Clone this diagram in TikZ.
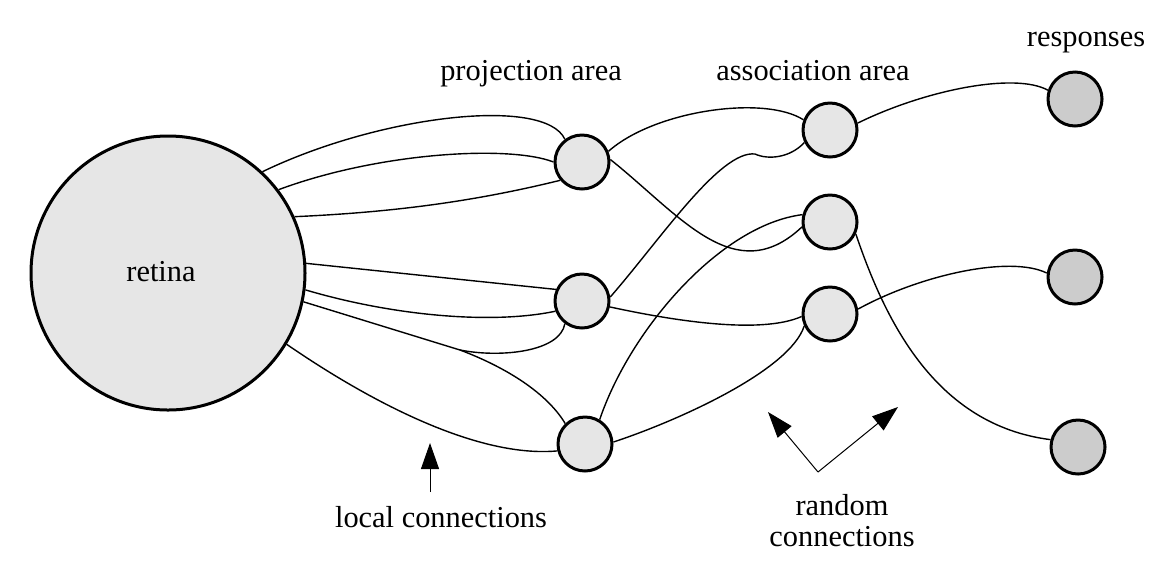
\documentclass[tikz,border=0pt]{standalone}
\usepackage{fontspec}
\setmainfont{Liberation Serif}
\usetikzlibrary{arrows.meta}
\definecolor{lightfill}{HTML}{E6E6E6}
\definecolor{darkfill}{HTML}{CCCCCC}
\begin{document}
\begin{tikzpicture}[x=0.5pt,y=-0.5pt,
  unit/.style={circle,draw,line width=1.5pt,fill=lightfill,minimum size=27pt,inner sep=0pt},
  resp/.style={unit,fill=darkfill},
  conn/.style={line width=0.7pt},
  lbl/.style={font=\fontsize{15.2}{18}\selectfont,inner sep=0pt,anchor=base},
  pointer/.style={line width=0.5pt,-{Triangle[length=13pt,width=9pt]}}]
\useasboundingbox (0,0) rectangle (1170,580);

% nodes
\node[unit,minimum size=137pt] (ret) at (168,273) {};
\node[unit] (p1) at (582,162) {};
\node[unit] (p2) at (582,301) {};
\node[unit] (p3) at (585,444) {};
\node[unit] (a1) at (830,130) {};
\node[unit] (a2) at (830,222) {};
\node[unit] (a3) at (830,314) {};
\node[resp] (r1) at (1075,99) {};
\node[resp] (r2) at (1075,277) {};
\node[resp] (r3) at (1078,447) {};

% labels
\node[lbl] (tret) at (161,281) {retina};
\node[lbl] (tproj) at (531,80) {projection area};
\node[lbl] (tassoc) at (813,80) {association area};
\node[lbl] (tresp) at (1086,46) {responses};
\node[lbl] (tlocal) at (441,527) {local connections};
\node[lbl] (trand1) at (842,515) {random};
\node[lbl] (trand2) at (842,546) {connections};

% retina -> projection
\coordinate (split) at (460,350);
\draw[conn] (ret.47) .. controls (380,115) and (545,96) .. (p1.127);
\draw[conn] (ret.37) .. controls (380,152) and (510,145) .. (p1.180);
\draw[conn] (ret.24) .. controls (400,212) and (480,200) .. (p1.220);
\draw[conn] (ret.4) -- (p2.156);
\draw[conn] (ret.-7) .. controls (390,315) and (490,325) .. (p2.201);
\draw[conn] (ret.-12) -- (split);
\draw[conn] (split) .. controls (500,358) and (560,352) .. (p2.233);
\draw[conn] (split) .. controls (500,365) and (545,390) .. (p3.134);
\draw[conn] (ret.-31) .. controls (375,405) and (480,458) .. (p3.194);

% projection -> association
\draw[conn] (p1.22) .. controls (655,110) and (765,95) .. (a1.159);
\draw[conn] (p1.5) .. controls (680,215) and (735,290) .. (a2.190);
\draw[conn] (p2.8) .. controls (660,240) and (720,150) .. (755,154)
   .. controls (768,160) and (790,158) .. (a1.206);
\draw[conn] (p2.-12) .. controls (670,320) and (760,335) .. (a3.185);
\draw[conn] (p3.59) .. controls (630,330) and (720,225) .. (a2.165);
\draw[conn] (p3.4) .. controls (680,420) and (790,370) .. (a3.205);

% association -> responses
\draw[conn] (a1.14) .. controls (925,90) and (1015,72) .. (r1.162);
\draw[conn] (a3.10) .. controls (920,275) and (1010,255) .. (r2.172);
\draw[conn] (a2.-25) .. controls (885,320) and (935,425) .. (r3.165);

% pointers
\coordinate (lbase) at (430,492);
\coordinate (ltip) at (430,443);
\draw[pointer] (lbase) -- (ltip);
\coordinate (rbase) at (818,472);
\coordinate (rtip1) at (768,412);
\coordinate (rtip2) at (898,407);
\draw[pointer] (rbase) -- (rtip1);
\draw[pointer] (rbase) -- (rtip2);
\end{tikzpicture}
\end{document}
